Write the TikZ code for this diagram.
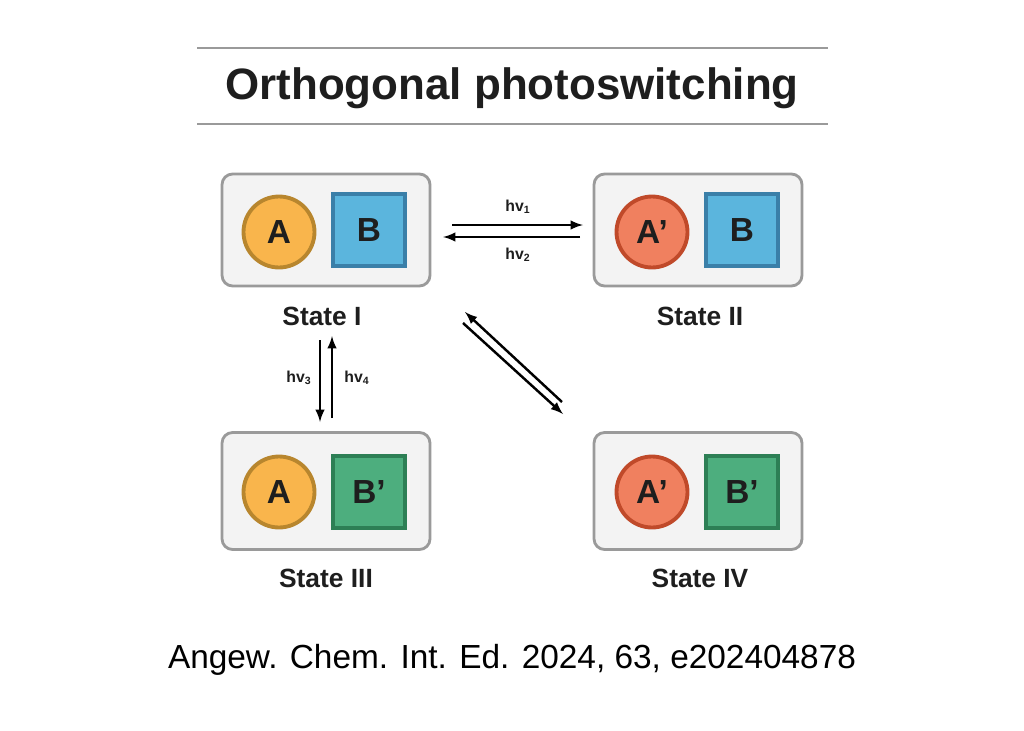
\documentclass[tikz,border=0pt]{standalone}
\usepackage{fontspec}
\setmainfont{Liberation Sans}
\definecolor{boxgray}{HTML}{F3F3F3}
\definecolor{linegray}{HTML}{9A9A9A}
\definecolor{textdark}{HTML}{1E1E1E}
\definecolor{orangeA}{HTML}{F9B54C}
\definecolor{orangeD}{HTML}{B8862E}
\definecolor{redA}{HTML}{F0805F}
\definecolor{redD}{HTML}{C04A2A}
\definecolor{blueB}{HTML}{5BB5DD}
\definecolor{blueD}{HTML}{3A7FA8}
\definecolor{greenB}{HTML}{4DAE7E}
\definecolor{greenD}{HTML}{2D7F55}
\tikzset{
	statebox/.style={draw=linegray, line width=1.6pt, fill=boxgray, rounded corners=6pt, minimum width=4.16cm, minimum height=2.24cm},
	ball/.style={circle, line width=2.2pt, minimum size=1.42cm, inner sep=0pt, text=textdark, font=\bfseries\fontsize{19}{19}\selectfont},
	cube/.style={rectangle, line width=2.2pt, minimum size=1.44cm, inner sep=0pt, text=textdark, font=\bfseries\fontsize{19}{19}\selectfont},
	statelabel/.style={text=textdark, font=\bfseries\fontsize{15}{15}\selectfont},
	light/.style={text=textdark, font=\bfseries\fontsize{9}{9}\selectfont},
	switch/.style={->, line width=1.4pt, >=latex}
}
\begin{document}
\begin{tikzpicture}[x=0.02cm, y=-0.02cm]
	\useasboundingbox (0,0) rectangle (1024,730);
	% title
	\draw [linegray, line width=1.6pt] (197,48) -- (828,48);
	\draw [linegray, line width=1.6pt] (197,124) -- (828,124);
	\node [text=textdark] (title) at (512,88) {\bfseries\fontsize{25}{25}\selectfont Orthogonal photoswitching};
	% states
	\node [statebox] (s1) at (326,230) {};
	\node [statebox] (s2) at (698,230) {};
	\node [statebox, minimum height=2.34cm] (s3) at (326,491) {};
	\node [statebox, minimum height=2.34cm] (s4) at (698,491) {};
	\node [ball, fill=orangeA, draw=orangeD] (a1) at (279,232) {A};
	\node [cube, fill=blueB, draw=blueD] (b1) at (369,230) {B};
	\node [ball, fill=redA, draw=redD] (a2) at (652,232) {A'};
	\node [cube, fill=blueB, draw=blueD] (b2) at (742,230) {B};
	\node [ball, fill=orangeA, draw=orangeD] (a3) at (279,492) {A};
	\node [cube, fill=greenB, draw=greenD] (b3) at (369,492) {B'};
	\node [ball, fill=redA, draw=redD] (a4) at (652,492) {A'};
	\node [cube, fill=greenB, draw=greenD] (b4) at (742,492) {B'};
	\node [statelabel] (l1) at (322,316) {State I};
	\node [statelabel] (l2) at (700,316) {State II};
	\node [statelabel] (l3) at (326,578) {State III};
	\node [statelabel] (l4) at (700,578) {State IV};
	% switching
	\coordinate (p1) at (452,225); \coordinate (p2) at (583,225);
	\coordinate (q1) at (580,237); \coordinate (q2) at (443,237);
	\draw [switch] (p1) -- (p2);
	\draw [switch] (q1) -- (q2);
	\node [light] (hv1) at (518,207) {hv\textsubscript{1}};
	\node [light] (hv2) at (518,255) {hv\textsubscript{2}};
	\coordinate (v1) at (320,340); \coordinate (v2) at (320,422);
	\coordinate (w1) at (332,418); \coordinate (w2) at (332,336);
	\draw [switch] (v1) -- (v2);
	\draw [switch] (w1) -- (w2);
	\node [light] (hv3) at (299,378) {hv\textsubscript{3}};
	\node [light] (hv4) at (357,378) {hv\textsubscript{4}};
	\coordinate (d1) at (562,402); \coordinate (d2) at (465,312);
	\coordinate (e1) at (463,323); \coordinate (e2) at (563,414);
	\draw [switch] (d1) -- (d2);
	\draw [switch] (e1) -- (e2);
	% reference
	\node (cite) at (512,660) {\fontsize{19}{19}\selectfont Angew. Chem. Int. Ed. 2024, 63, e202404878};
\end{tikzpicture}
\end{document}
